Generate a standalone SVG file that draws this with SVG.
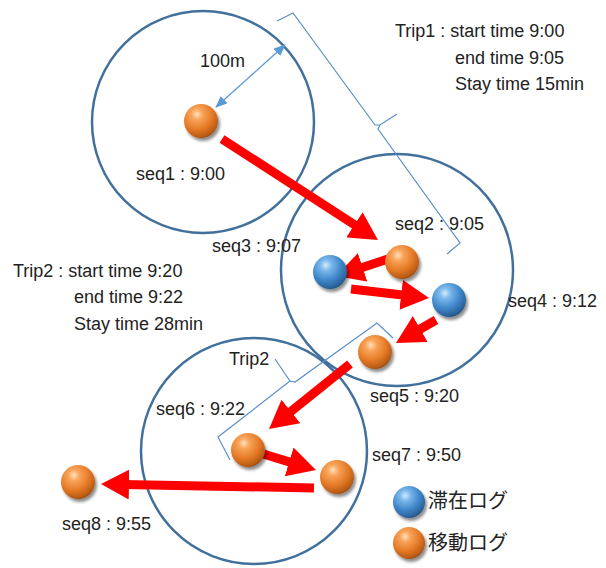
<svg xmlns="http://www.w3.org/2000/svg" width="606" height="568" viewBox="0 0 606 568">
<style>
  .zone{fill:none;stroke:#41709c;stroke-width:2.5}
  .brace{fill:none;stroke:#5b8fc9;stroke-width:1.2;stroke-linejoin:miter}
  .mv{fill:none;stroke:#ff0000;stroke-width:9;marker-end:url(#redhead)}
  .dist{fill:none;stroke:#5b9bd5;stroke-width:1.3;marker-start:url(#bluehead);marker-end:url(#bluehead)}
  .t{font-family:"Liberation Sans",Arial,sans-serif;font-size:18px;fill:#222}
  .jp{font-family:"Liberation Sans","Noto Sans CJK JP",sans-serif;font-size:20px;fill:#222}
</style>
<defs>
  <radialGradient id="gOrange" cx="0.38" cy="0.3" r="0.75">
    <stop offset="0" stop-color="#ffe0bd"/>
    <stop offset="0.22" stop-color="#f8a45a"/>
    <stop offset="0.6" stop-color="#e57a26"/>
    <stop offset="0.9" stop-color="#b85a14"/>
    <stop offset="1" stop-color="#8a400c"/>
  </radialGradient>
  <radialGradient id="gBlue" cx="0.38" cy="0.3" r="0.75">
    <stop offset="0" stop-color="#d3ebfd"/>
    <stop offset="0.22" stop-color="#7ab8ec"/>
    <stop offset="0.6" stop-color="#3f86c8"/>
    <stop offset="0.9" stop-color="#2a6199"/>
    <stop offset="1" stop-color="#1e4672"/>
  </radialGradient>
  <filter id="shadow" x="-50%" y="-50%" width="200%" height="200%">
    <feGaussianBlur in="SourceAlpha" stdDeviation="1.8"/>
    <feOffset dx="1.5" dy="2.5" result="b"/>
    <feComponentTransfer><feFuncA type="linear" slope="0.45"/></feComponentTransfer>
    <feMerge><feMergeNode/><feMergeNode in="SourceGraphic"/></feMerge>
  </filter>
  <marker id="redhead" markerUnits="userSpaceOnUse" markerWidth="28" markerHeight="30" viewBox="0 0 28 30" refX="6" refY="15" orient="auto">
    <path d="M0,0 L28,15 L0,30 z" fill="#ff0000"/>
  </marker>
  <marker id="bluehead" markerUnits="userSpaceOnUse" markerWidth="12" markerHeight="10" viewBox="0 0 12 10" refX="11" refY="5" orient="auto-start-reverse">
    <path d="M0,0 L12,5 L0,10 z" fill="#5b9bd5"/>
  </marker>
</defs>
<rect width="606" height="568" fill="#ffffff"/>

<g id="zones">
  <circle id="zone1" class="zone" cx="203" cy="122" r="111"/>
  <circle id="zone2" class="zone" cx="397" cy="270" r="116"/>
  <circle id="zone3" class="zone" cx="254" cy="451" r="113"/>
</g>

<g id="braces">
  <path id="trip1-brace" class="brace" d="M277,21 L293,13 L375,125 L380,125 L397,114 M380,125 L378,129 L460,243 L447,254"/>
  <path id="trip2-brace" class="brace" d="M393,338 L377,323 L295,382 L290,381 L275,359 M290,381 L218,437 L230,460"/>
</g>

<g id="connectors">
  <path class="mv" d="M222,139 L359.5,228"/>
  <path class="mv" d="M388,259 L356.9,269.2"/>
  <path class="mv" d="M351,289 L407.1,295.5"/>
  <path class="mv" d="M436,320 L415.1,332"/>
  <path class="mv" d="M350,364 L286.2,415.2"/>
  <path class="mv" d="M260,453 L294.9,463.6"/>
  <path class="mv" d="M314,488 L123,484.4"/>
  <path class="dist" d="M216,107 L285,45"/>
</g>

<g id="seq1" filter="url(#shadow)"><circle cx="201" cy="121" r="17" fill="url(#gOrange)"/></g>
<g id="seq2" filter="url(#shadow)"><circle cx="402" cy="262" r="17" fill="url(#gOrange)"/></g>
<g id="seq3" filter="url(#shadow)"><circle cx="330" cy="272" r="17" fill="url(#gBlue)"/></g>
<g id="seq4" filter="url(#shadow)"><circle cx="449" cy="300" r="17" fill="url(#gBlue)"/></g>
<g id="seq5" filter="url(#shadow)"><circle cx="375" cy="352" r="17" fill="url(#gOrange)"/></g>
<g id="seq6" filter="url(#shadow)"><circle cx="248" cy="450" r="17" fill="url(#gOrange)"/></g>
<g id="seq7" filter="url(#shadow)"><circle cx="337" cy="477" r="17" fill="url(#gOrange)"/></g>
<g id="seq8" filter="url(#shadow)"><circle cx="78" cy="482" r="17" fill="url(#gOrange)"/></g>

<g id="labels">
  <text class="t" x="200" y="67">100m</text>
  <text class="t" x="136" y="180">seq1 : 9:00</text>
  <text class="t" x="395" y="230">seq2 : 9:05</text>
  <text class="t" x="212" y="252">seq3 : 9:07</text>
  <text class="t" x="508" y="307">seq4 : 9:12</text>
  <text class="t" x="370" y="402">seq5 : 9:20</text>
  <text class="t" x="156" y="415">seq6 : 9:22</text>
  <text class="t" x="372" y="461">seq7 : 9:50</text>
  <text class="t" x="62" y="530">seq8 : 9:55</text>
  <text class="t" x="229" y="365">Trip2</text>
</g>

<g id="trip1-info">
  <text class="t" x="395" y="37">Trip1 : start time 9:00</text>
  <text class="t" x="455" y="64">end time 9:05</text>
  <text class="t" x="455" y="90">Stay time 15min</text>
</g>
<g id="trip2-info">
  <text class="t" x="13" y="277">Trip2 : start time 9:20</text>
  <text class="t" x="74" y="303">end time 9:22</text>
  <text class="t" x="74" y="330">Stay time 28min</text>
</g>

<g id="legend">
  <g id="legend-stay" filter="url(#shadow)"><circle cx="409" cy="502" r="16" fill="url(#gBlue)"/></g>
  <text class="jp" x="428" y="508">滞在ログ</text>
  <g id="legend-move" filter="url(#shadow)"><circle cx="409" cy="543" r="16" fill="url(#gOrange)"/></g>
  <text class="jp" x="428" y="550">移動ログ</text>
</g>
</svg>
